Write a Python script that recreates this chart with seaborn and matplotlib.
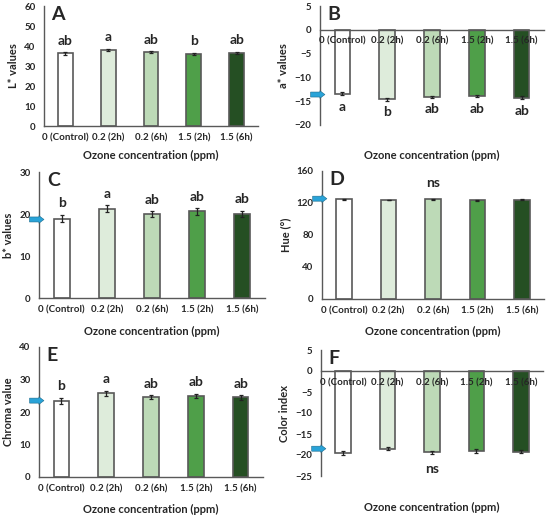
import matplotlib
matplotlib.use("Agg")
import matplotlib.pyplot as plt
import seaborn as sns
import numpy as np

sns.set_style("white")
plt.rcParams['font.family'] = ['Lato', 'DejaVu Sans']
plt.rcParams['font.weight'] = 'bold'

categories = ["0 (Control)", "0.2 (2h)", "0.2 (6h)", "1.5 (2h)", "1.5 (6h)"]
bar_colors = ["#FFFFFF", "#DCEFD8", "#B9E0B1", "#42AD3B", "#1E561C"]

l_values = [36.3, 38.0, 36.8, 36.0, 36.6]
l_err = [0.6, 0.6, 0.5, 0.6, 0.5]
l_letters = ["ab", "a", "ab", "b", "ab"]

a_values = [-13.4, -14.6, -14.1, -14.0, -14.3]
a_err = [0.3, 0.3, 0.2, 0.2, 0.3]
a_letters = ["a", "b", "ab", "ab", "ab"]

b_values = [18.9, 21.3, 19.9, 20.6, 20.1]
b_err = [0.9, 0.8, 0.7, 0.8, 0.7]
b_letters = ["b", "a", "ab", "ab", "ab"]

hue_values = [124.7, 123.8, 124.7, 123.4, 124.3]
hue_err = [0.6, 0.5, 0.5, 0.8, 0.5]

chroma_values = [23.4, 25.8, 24.6, 24.9, 24.5]
chroma_err = [0.9, 0.8, 0.6, 0.7, 0.7]
chroma_letters = ["b", "a", "ab", "ab", "ab"]

ci_values = [-19.6, -18.5, -19.4, -19.0, -19.2]
ci_err = [0.5, 0.4, 0.4, 0.5, 0.4]

W, H = 550, 516
fig = plt.figure(figsize=(5.5, 5.16), dpi=100)


def make_ax(left, right, top, bottom):
    return fig.add_axes([left / W, 1 - bottom / H, (right - left) / W, (bottom - top) / H])


def panel(ax, values, errs, ylabel, ylim, step, letter, label_gap, labels=None, arrow=None,
          negative=False, ns_y=None):
    sns.barplot(x=categories, y=values, hue=categories, palette=bar_colors, legend=False,
                width=0.35, edgecolor="#595959", linewidth=1.2, ax=ax, errorbar=None)
    ax.errorbar(np.arange(len(values)), values, yerr=errs, fmt="none", ecolor="#222222",
                elinewidth=0.9, capsize=1.5, capthick=0.9)
    ax.set_xlim(-0.5, 4.5)
    ax.set_ylim(*ylim)
    ax.set_yticks(np.arange(ylim[0], ylim[1] + 0.1, step))
    for s in ["top", "right"]:
        ax.spines[s].set_visible(False)
    for s in ["left", "bottom"]:
        ax.spines[s].set_color("#595959")
        ax.spines[s].set_linewidth(1.0)
    if negative:
        ax.spines["bottom"].set_position(("data", 0))
        ax.xaxis.set_zorder(10)
    ax.tick_params(axis="x", length=0, labelsize=7, pad=5)
    ax.tick_params(axis="y", length=0, labelsize=7, pad=6)
    for t in ax.get_xticklabels() + ax.get_yticklabels():
        t.set_fontweight("bold")
    ax.set_ylabel(ylabel, fontsize=8, fontweight="bold", labelpad=4)
    ax.set_xlabel("Ozone concentration (ppm)", fontsize=8, fontweight="bold")
    ax.xaxis.label.set_va("center")
    h_px = ax.get_position().height * H
    ax.xaxis.set_label_coords(0.5, -label_gap / h_px)
    ax.text(0.035, 1.0, letter, transform=ax.transAxes, fontsize=14, fontweight="bold",
            va="top", ha="left")
    if labels is not None:
        for i, (v, e, lab) in enumerate(zip(values, errs, labels)):
            if negative:
                ax.annotate(lab, (i, v - e), xytext=(0, -4), textcoords="offset points",
                            ha="center", va="top", fontsize=10, fontweight="bold")
            else:
                ax.annotate(lab, (i, v + e), xytext=(0, 4), textcoords="offset points",
                            ha="center", va="bottom", fontsize=10, fontweight="bold")
    if ns_y is not None:
        ax.text(2, ns_y, "ns", ha="center", va="center", fontsize=10, fontweight="bold")
    if arrow is not None:
        ax.annotate("", xy=(0.022, arrow), xytext=(-0.042, arrow),
                    xycoords=("axes fraction", "data"), textcoords=("axes fraction", "data"),
                    arrowprops=dict(arrowstyle="simple,head_width=0.9,head_length=0.6,tail_width=0.6",
                                    mutation_scale=6, shrinkA=0, shrinkB=0,
                                    facecolor="#29A3D8", edgecolor="#1A6A8C", linewidth=0.4),
                    annotation_clip=False, zorder=12)


axA = make_ax(44, 258, 6, 126)
panel(axA, l_values, l_err, "L* values", (0, 60), 10, "A", 29, labels=l_letters)

axB = make_ax(320, 544, 6, 125)
panel(axB, a_values, a_err, "a* values", (-20, 5), 5, "B", 30, labels=a_letters,
      arrow=-13.6, negative=True)

axC = make_ax(39, 265, 172, 298)
panel(axC, b_values, b_err, "b* values", (0, 30), 10, "C", 33, labels=b_letters, arrow=18.7)

axD = make_ax(322, 544, 171, 299)
panel(axD, hue_values, hue_err, "Hue (°)", (0, 160), 40, "D", 32, arrow=125.4, ns_y=145)

axE = make_ax(39, 263, 347, 477)
panel(axE, chroma_values, chroma_err, "Chroma value", (0, 40), 10, "E", 32,
      labels=chroma_letters, arrow=23.5)

axF = make_ax(321, 543, 350, 476)
panel(axF, ci_values, ci_err, "Color index", (-25, 5), 5, "F", 31, arrow=-18.5,
      negative=True, ns_y=-23.3)

fig.savefig("out.png", dpi=100)
